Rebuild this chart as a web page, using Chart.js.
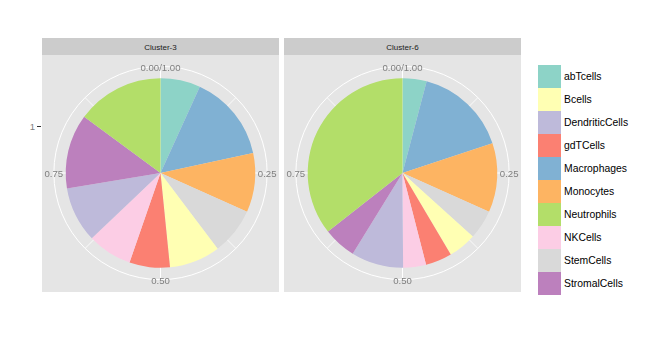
<!DOCTYPE html>
<html>
<head>
<meta charset="utf-8">
<title>Cell type composition by cluster</title>
<script src="https://cdn.jsdelivr.net/npm/chart.js@4.4.1/dist/chart.umd.min.js"></script>
<style>
  html, body { margin: 0; padding: 0; background: #ffffff; }
  #page { position: relative; width: 665px; height: 348px; overflow: hidden;
          font-family: "Liberation Sans", Arial, sans-serif; }
  .panel { position: absolute; top: 38px; width: 237px; }
  .strip { height: 17px; background: #cccccc; color: #1a1a1a; font-size: 8px;
           display: flex; align-items: center; justify-content: center; padding-top: 1px; box-sizing: border-box; }
  .panel canvas { display: block; background: #e5e5e5; }
  #ylab { position: absolute; left: 24px; top: 119px; width: 11px; text-align: right;
          font-size: 9.6px; color: #7f7f7f; line-height: 15px; }
  #ytick { position: absolute; left: 37px; top: 126px; width: 4px; height: 1px; background: #333333; }
  #legend { position: absolute; left: 538px; top: 65px; }
  .key { display: flex; align-items: center; height: 23px; }
  .swatch { width: 23px; height: 23px; }
  .key span { margin-left: 3px; font-size: 10.4px; color: #000000; }
</style>
</head>
<body>
<div id="page">
  <div id="ylab">1</div>
  <div id="ytick"></div>
  <div class="panel" style="left:42px"><div class="strip" id="strip0"></div><canvas id="c0" width="237" height="237"></canvas></div>
  <div class="panel" style="left:284px"><div class="strip" id="strip1"></div><canvas id="c1" width="237" height="237"></canvas></div>
  <div id="legend"></div>
</div>
<script>
// Cell types in legend order, with their Set3 fill colours
const cellTypes = ['abTcells', 'Bcells', 'DendriticCells', 'gdTCells', 'Macrophages',
                   'Monocytes', 'Neutrophils', 'NKCells', 'StemCells', 'StromalCells'];
const cellColors = ['#8DD3C7', '#FFFFB3', '#BEBADA', '#FB8072', '#80B1D3',
                    '#FDB462', '#B3DE69', '#FCCDE5', '#D9D9D9', '#BC80BD'];

// Stacking order of the wedges, clockwise from 12 o'clock
const sliceOrder = ['abTcells', 'Macrophages', 'Monocytes', 'StemCells', 'Bcells',
                    'gdTCells', 'NKCells', 'DendriticCells', 'StromalCells', 'Neutrophils'];

// Share of each cell type per cluster (legend order)
const clusterNames = ['Cluster-3', 'Cluster-6'];
const cluster3Share = [0.068, 0.087, 0.095, 0.069, 0.148, 0.101, 0.149, 0.076, 0.080, 0.127];
const cluster6Share = [0.041, 0.048, 0.089, 0.045, 0.158, 0.118, 0.356, 0.039, 0.050, 0.056];

// Angular axis
const thetaTickPos = [0, 0.25, 0.5, 0.75];
const thetaTickLabels = ['0.00/1.00', '0.25', '0.50', '0.75'];
const thetaMinorPos = [0.125, 0.375, 0.625, 0.875];

// Polar panel frame: white theta grid + outer ring under the wedges, angle labels on top
const polarFrame = {
  id: 'polarFrame',
  beforeDatasetsDraw(chart) {
    const arc = chart.getDatasetMeta(0).data[0];
    const cx = arc.x, cy = arc.y;
    const ring = 0.45 * chart.width;
    const ctx = chart.ctx;
    ctx.save();
    ctx.strokeStyle = '#ffffff';
    const spoke = (p, w) => {
      const a = 2 * Math.PI * p;
      ctx.lineWidth = w;
      ctx.beginPath();
      ctx.moveTo(cx, cy);
      ctx.lineTo(cx + ring * Math.sin(a), cy - ring * Math.cos(a));
      ctx.stroke();
    };
    thetaMinorPos.forEach(p => spoke(p, 0.8));
    thetaTickPos.forEach(p => spoke(p, 1));
    ctx.lineWidth = 1;
    ctx.beginPath();
    ctx.arc(cx, cy, ring, 0, 2 * Math.PI);
    ctx.stroke();
    ctx.restore();
  },
  afterDatasetsDraw(chart) {
    const arc = chart.getDatasetMeta(0).data[0];
    const cx = arc.x, cy = arc.y;
    const r = 0.45 * chart.width;
    const ctx = chart.ctx;
    ctx.save();
    ctx.font = '9.6px "Liberation Sans", Arial, sans-serif';
    ctx.fillStyle = '#7f7f7f';
    ctx.textAlign = 'center';
    ctx.textBaseline = 'middle';
    thetaTickPos.forEach((p, i) => {
      const a = 2 * Math.PI * p;
      ctx.fillText(thetaTickLabels[i], cx + r * Math.sin(a), cy - r * Math.cos(a) + 1.5);
    });
    ctx.restore();
  }
};

function buildPie(canvasId, share) {
  const idx = sliceOrder.map(n => cellTypes.indexOf(n));
  return new Chart(document.getElementById(canvasId), {
    type: 'pie',
    data: {
      labels: sliceOrder,
      datasets: [{
        data: idx.map(i => share[i]),
        backgroundColor: idx.map(i => cellColors[i]),
        borderWidth: 0,
        radius: 0.4 * 237
      }]
    },
    options: {
      responsive: false,
      animation: false,
      devicePixelRatio: 1,
      layout: { padding: { bottom: 1 } },
      plugins: { legend: { display: false }, tooltip: { enabled: false } }
    },
    plugins: [polarFrame]
  });
}

document.getElementById('strip0').textContent = clusterNames[0];
document.getElementById('strip1').textContent = clusterNames[1];
buildPie('c0', cluster3Share);
buildPie('c1', cluster6Share);

// Legend
const legend = document.getElementById('legend');
cellTypes.forEach((name, i) => {
  const row = document.createElement('div');
  row.className = 'key';
  const sw = document.createElement('div');
  sw.className = 'swatch';
  sw.style.background = cellColors[i];
  const txt = document.createElement('span');
  txt.textContent = name;
  row.appendChild(sw);
  row.appendChild(txt);
  legend.appendChild(row);
});
</script>
</body>
</html>
